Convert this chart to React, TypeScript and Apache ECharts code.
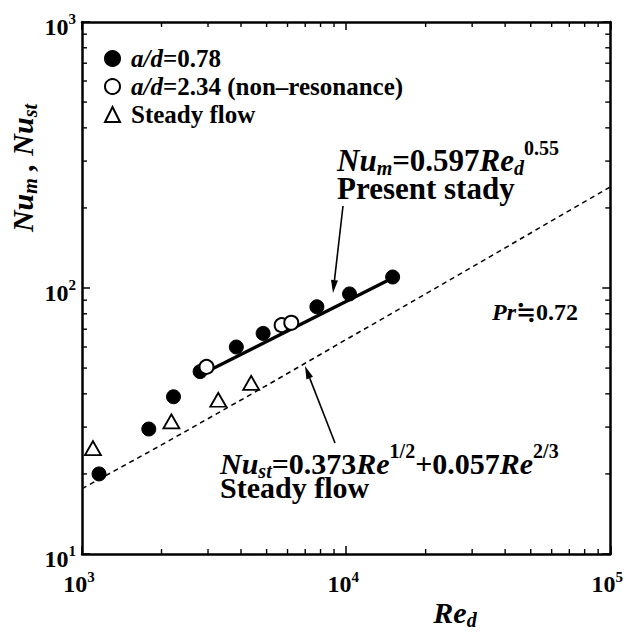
import React, { useEffect, useRef } from "react";
import * as echarts from "echarts";

// ---- data ----
const filledCircles: number[][] = [
  [1160, 20], [1790, 29.5], [2220, 39], [2800, 48.5], [3840, 60],
  [4850, 67.5], [7750, 85], [10300, 95], [15000, 110],
];
const openCircles: number[][] = [[2960, 50.5], [5700, 72.5], [6200, 74]];
const steadyTriangles: number[][] = [[1100, 25], [2180, 31.5], [3280, 38], [4370, 44]];
const presentFit: number[][] = [[2850, 47.5], [15000, 109]];
const steadyCorrelation: number[][] = [
  [1000, 17.6], [2000, 25.7], [5000, 43], [10000, 64], [20000, 95], [50000, 161], [100000, 240],
];
const xMinorTicks = [2000, 3000, 4000, 5000, 6000, 7000, 8000, 9000, 20000, 30000, 40000, 50000, 60000, 70000, 80000, 90000];
const yMinorTicks = [20, 30, 40, 50, 60, 70, 80, 90, 200, 300, 400, 500, 600, 700, 800, 900];
const seriesNames = ["a/d=0.78", "a/d=2.34 (non–resonance)", "Steady flow"];

const FF = "'Liberation Serif', 'Times New Roman', 'DejaVu Serif', serif";

// rich styles for a two-line annotation: line 1 with sub/superscripts, line 2 plain
function annRich(size: number, small: number, lh2: number) {
  const common = { fontFamily: FF, fontWeight: "bold" as const, color: "#000" };
  return {
    b: { ...common, fontSize: size, lineHeight: 36, height: 28, verticalAlign: "bottom" as const },
    bi: { ...common, fontStyle: "italic" as const, fontSize: size, lineHeight: 36, height: 28, verticalAlign: "bottom" as const },
    sup: { ...common, fontSize: small, lineHeight: 14, height: 20, verticalAlign: "top" as const },
    sub: { ...common, fontStyle: "italic" as const, fontSize: small, lineHeight: 14, height: 12, verticalAlign: "bottom" as const },
    l2: { ...common, fontSize: size, lineHeight: lh2 },
  };
}

function tickRich() {
  const common = { fontFamily: FF, fontWeight: "bold" as const, color: "#000" };
  return {
    b: { ...common, fontSize: 24, lineHeight: 30 },
    sup: { ...common, fontSize: 15, lineHeight: 12, verticalAlign: "top" as const },
  };
}

function arrow(tail: number[], tip: number[]) {
  const dx = tip[0] - tail[0];
  const dy = tip[1] - tail[1];
  const len = Math.sqrt(dx * dx + dy * dy);
  const ux = dx / len, uy = dy / len;
  const nx = -uy, ny = ux;
  const L = 13, W = 3.5;
  const bx = tip[0] - L * ux, by = tip[1] - L * uy;
  return [
    { type: "line", shape: { x1: tail[0], y1: tail[1], x2: bx, y2: by }, style: { stroke: "#000", lineWidth: 1.6 } },
    {
      type: "polygon",
      shape: { points: [[tip[0], tip[1]], [bx + W * nx, by + W * ny], [bx - W * nx, by - W * ny]] },
      style: { fill: "#000" },
    },
  ];
}

export default function App() {
  const ref = useRef<HTMLDivElement>(null);
  useEffect(() => {
    if (!ref.current) return;
    const chart = echarts.init(ref.current, undefined, { renderer: "svg" });
    const labelFmt = (v: number) => `{b|10}{sup|${Math.round(Math.log10(v))}}`;
    const axisLine = { show: true, lineStyle: { color: "#000", width: 2.5 } };
    const axisTick = { show: true, inside: true, length: 8, lineStyle: { color: "#000", width: 1.5 } };
    const r1 = annRich(31, 20, 28);
    const r2 = annRich(30, 20, 20);
    const rt = annRich(30, 20, 30);

    const option: any = {
      animation: false,
      backgroundColor: "#fff",
      grid: { left: 82, right: 13, top: 22, bottom: 78, containLabel: false },
      xAxis: [
        {
          type: "log", logBase: 10, min: 1000, max: 100000, position: "bottom",
          axisLine, axisTick, splitLine: { show: false },
          axisLabel: { formatter: labelFmt, rich: tickRich(), margin: 15, padding: [0, 6, 0, 0] },
        },
        {
          type: "log", logBase: 10, min: 1000, max: 100000, position: "top",
          axisLine, axisTick, splitLine: { show: false }, axisLabel: { show: false },
        },
      ],
      yAxis: [
        {
          type: "log", logBase: 10, min: 10, max: 1000, position: "left",
          axisLine, axisTick, splitLine: { show: false },
          axisLabel: { formatter: labelFmt, rich: tickRich(), margin: 6, padding: [9, 0, 0, 0] },
        },
        {
          type: "log", logBase: 10, min: 10, max: 1000, position: "right",
          axisLine, axisTick, splitLine: { show: false }, axisLabel: { show: false },
        },
      ],
      legend: {
        data: seriesNames,
        orient: "vertical",
        left: 99,
        top: 41,
        itemWidth: 15,
        itemHeight: 15,
        itemGap: 3,
        textStyle: {
          fontFamily: FF, fontWeight: "bold", fontSize: 25, color: "#000",
          padding: [0, 0, 0, 6],
          rich: {
            i: { fontFamily: FF, fontWeight: "bold", fontStyle: "italic", fontSize: 25, color: "#000", lineHeight: 24 },
            b: { fontFamily: FF, fontWeight: "bold", fontSize: 25, color: "#000", lineHeight: 24 },
          },
        },
        formatter: (name: string) => {
          if (name.startsWith("a/d")) return `{i|a/d}{b|${name.slice(3)}}`;
          return `{b|${name}}`;
        },
      },
      series: [
        {
          name: seriesNames[0], type: "scatter", data: filledCircles, symbol: "circle", symbolSize: 14,
          itemStyle: { color: "#000", borderColor: "#000", borderWidth: 1, opacity: 1 }, z: 2,
        },
        {
          name: "fit", type: "line", data: presentFit, symbol: "none",
          lineStyle: { color: "#000", width: 3.2 }, z: 3,
        },
        {
          name: seriesNames[1], type: "scatter", data: openCircles, symbol: "circle", symbolSize: 14,
          itemStyle: { color: "#fff", borderColor: "#000", borderWidth: 2, opacity: 1 }, z: 4,
        },
        {
          name: seriesNames[2], type: "scatter", data: steadyTriangles, symbol: "triangle", symbolSize: [16, 14],
          itemStyle: { color: "#fff", borderColor: "#000", borderWidth: 1.8, opacity: 1 }, z: 4,
        },
        {
          name: "steady", type: "line", data: steadyCorrelation, symbol: "none", smooth: false,
          lineStyle: { color: "#000", width: 1.5, type: [5, 4] }, z: 1,
        },
        {
          name: "minor", type: "custom", clip: false, silent: true, z: 5,
          data: [
            ...xMinorTicks.map((v) => [v, 10, 0]),
            ...yMinorTicks.map((v) => [1000, v, 1]),
          ],
          encode: { x: 0, y: 1 },
          renderItem: (params: any, api: any) => {
            const cs = params.coordSys;
            const st = { stroke: "#000", lineWidth: 1.4 };
            if (api.value(2) === 0) {
              const px = api.coord([api.value(0), 10])[0];
              return {
                type: "group",
                children: [
                  { type: "line", shape: { x1: px, y1: cs.y + cs.height, x2: px, y2: cs.y + cs.height - 5 }, style: st },
                  { type: "line", shape: { x1: px, y1: cs.y, x2: px, y2: cs.y + 5 }, style: st },
                ],
              };
            }
            const py = api.coord([1000, api.value(1)])[1];
            return {
              type: "group",
              children: [
                { type: "line", shape: { x1: cs.x, y1: py, x2: cs.x + 5, y2: py }, style: st },
                { type: "line", shape: { x1: cs.x + cs.width, y1: py, x2: cs.x + cs.width - 5, y2: py }, style: st },
              ],
            };
          },
        },
      ],
      graphic: [
        {
          type: "text", x: 18, y: 168, rotation: Math.PI / 2,
          style: { text: "{bi|Nu}{sub|m}{bi| , }{bi|Nu}{sub|st}", rich: rt, align: "center", verticalAlign: "middle" },
        },
        {
          type: "text", x: 455, y: 590,
          style: { text: "{bi|Re}{sub|d}", rich: rt, align: "center", verticalAlign: "top" },
        },
        {
          type: "text", x: 337, y: 138,
          style: {
            text: "{bi|Nu}{sub|m}{b|=0.597}{bi|Re}{sub|d}{sup|0.55}\n{l2|Present stady}",
            rich: r1, align: "left", verticalAlign: "top",
          },
        },
        {
          type: "text", x: 220, y: 441,
          style: {
            text: "{bi|Nu}{sub|st}{b|=0.373}{bi|Re}{sup|1/2}{b|+0.057}{bi|Re}{sup|2/3}\n{l2|Steady flow}",
            rich: r2, align: "left", verticalAlign: "top",
          },
        },
        {
          type: "text", x: 492, y: 312,
          style: {
            text: "{i|Pr}{b|≒0.72}",
            rich: {
              i: { fontFamily: FF, fontWeight: "bold", fontStyle: "italic", fontSize: 24, color: "#000" },
              b: { fontFamily: FF, fontWeight: "bold", fontSize: 24, color: "#000" },
            },
            align: "left", verticalAlign: "middle",
          },
        },
        ...arrow([343, 206], [333, 293]),
        ...arrow([335, 443], [305, 366]),
      ],
    };
    chart.setOption(option);
    return () => chart.dispose();
  }, []);
  return <div ref={ref} style={{ position: "absolute", left: 0, top: 0, width: 626, height: 632, background: "#fff" }} />;
}
